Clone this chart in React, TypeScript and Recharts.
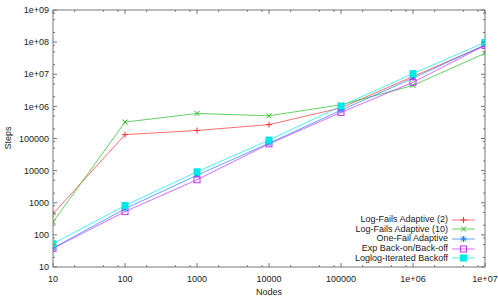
import React from 'react';
import { LineChart, Line, XAxis, YAxis, Legend } from 'recharts';

// values (log-log plot)
const nodes = [10, 100, 1000, 10000, 100000, 1000000, 10000000];
const logFails2 = [450, 132000, 178000, 270000, 900000, 8500000, 80000000];
const logFails10 = [250, 325000, 600000, 510000, 1120000, 4500000, 45000000];
const oneFail = [39, 650, 7200, 71000, 760000, 7600000, 81000000];
const expBackOn = [38, 530, 5200, 68000, 650000, 5600000, 79000000];
const loglogBackoff = [53, 820, 9200, 89000, 1020000, 10500000, 98000000];

const xTicks = [10, 100, 1000, 10000, 100000, 1000000, 10000000];
const yTicks = [10, 100, 1000, 10000, 100000, 1000000, 10000000, 100000000, 1000000000];
const minorSteps = [2, 5, 8];
const xMinor = xTicks.slice(0, -1).flatMap((t) => minorSteps.map((m) => t * m));
const yMinor = yTicks.slice(0, -1).flatMap((t) => minorSteps.map((m) => t * m));
const xAllTicks = [...xTicks, ...xMinor].sort((a, b) => a - b);
const yAllTicks = [...yTicks, ...yMinor].sort((a, b) => a - b);

const series = [
  { key: 'lf2', name: 'Log-Fails Adaptive (2)', color: '#ff3030', shape: 'plus', values: logFails2 },
  { key: 'lf10', name: 'Log-Fails Adaptive (10)', color: '#22bb22', shape: 'cross', values: logFails10 },
  { key: 'one', name: 'One-Fail Adaptive', color: '#1a7fff', shape: 'star', values: oneFail },
  { key: 'exp', name: 'Exp Back-on/Back-off', color: '#c030ff', shape: 'square', values: expBackOn },
  { key: 'loglog', name: 'Loglog-Iterated Backoff', color: '#00e8e8', shape: 'filled', values: loglogBackoff },
];

const data = nodes.map((n, i) => {
  const row: Record<string, number> = { nodes: n };
  series.forEach((s) => {
    row[s.key] = s.values[i];
  });
  return row;
});

const FONT = '"Liberation Sans", Arial, sans-serif';
const AXIS = '#777';

const fmt = (v: number) => (v >= 1e6 ? v.toExponential(0).replace('e+', 'e+0') : String(v));

// major ticks 4px, minor 2px, all pointing into the plot
const tickLen = (v: number) => (String(v)[0] === '1' ? 4 : 2);
const innerTick = (side: 'bottom' | 'top' | 'left' | 'right') => (p: any) => {
  const len = tickLen(p.payload.value);
  const dx = side === 'left' ? len : side === 'right' ? -len : 0;
  const dy = side === 'bottom' ? -len : side === 'top' ? len : 0;
  return <line x1={p.x} y1={p.y} x2={p.x + dx} y2={p.y + dy} stroke={AXIS} strokeWidth={1} />;
};

const Marker = ({ cx, cy, shape, color }: { cx: number; cy: number; shape: string; color: string }) => {
  if (cx == null || cy == null) return null;
  const r = 3;
  switch (shape) {
    case 'plus':
      return <path d={`M${cx - r},${cy}h${2 * r}M${cx},${cy - r}v${2 * r}`} stroke={color} strokeWidth={1} />;
    case 'cross':
      return (
        <path
          d={`M${cx - 2.5},${cy - 2.5}l5,5M${cx - 2.5},${cy + 2.5}l5,-5`}
          stroke={color}
          strokeWidth={1}
        />
      );
    case 'star':
      return (
        <path
          d={`M${cx - r},${cy}h${2 * r}M${cx},${cy - r}v${2 * r}M${cx - 2.5},${cy - 2.5}l5,5M${cx - 2.5},${cy + 2.5}l5,-5`}
          stroke={color}
          strokeWidth={1}
        />
      );
    case 'square':
      return <rect x={cx - r} y={cy - r} width={2 * r} height={2 * r} fill="none" stroke={color} strokeWidth={1} />;
    default:
      return <rect x={cx - 3.5} y={cy - 3.5} width={7} height={7} fill={color} stroke="none" />;
  }
};

const renderLegend = () => (
  <div style={{ fontFamily: FONT, fontSize: 9, color: '#222' }}>
    {series.map((s) => (
      <div
        key={s.key}
        style={{ display: 'flex', alignItems: 'center', justifyContent: 'flex-end', height: 9.67 }}
      >
        <span style={{ marginRight: 2, lineHeight: '9.67px' }}>{s.name}</span>
        <svg width={30} height={10} style={{ display: 'block' }}>
          <line x1={2} x2={25} y1={5} y2={5} stroke={s.color} strokeOpacity={0.7} strokeWidth={1} />
          <Marker cx={13.5} cy={5} shape={s.shape} color={s.color} />
        </svg>
      </div>
    ))}
  </div>
);

const tickStyle = { fontSize: 9, fill: '#222', fontFamily: FONT };

const logX = { type: 'number' as const, scale: 'log' as const, domain: [10, 10000000], allowDataOverflow: true, dataKey: 'nodes' };
const logY = { type: 'number' as const, scale: 'log' as const, domain: [10, 1000000000], allowDataOverflow: true };

// frame axes, each pair tied to an invisible line so the axes render
const tickAxisPairs = [
  ['xb', 'yl'],
  ['xt', 'yr'],
];

export default function App() {
  return (
    <div style={{ position: 'absolute', left: 0, top: 0, fontFamily: FONT, background: '#fff' }}>
      <LineChart width={498} height={299} data={data} margin={{ top: 10, right: 13, bottom: 0, left: 0 }}>
        {/* labelled axes */}
        <XAxis
          xAxisId="x"
          {...logX}
          ticks={xTicks}
          interval={0}
          tickFormatter={fmt}
          tick={tickStyle}
          tickLine={false}
          axisLine={false}
          tickSize={0}
          tickMargin={9}
          height={32}
          label={{
            content: () => (
              <text x={269} y={292} textAnchor="middle" dominantBaseline="central" fontSize={9} fill="#222" fontFamily={FONT}>
                Nodes
              </text>
            ),
          }}
        />
        <YAxis
          yAxisId="y"
          {...logY}
          ticks={yTicks}
          interval={0}
          tickFormatter={fmt}
          tick={tickStyle}
          tickLine={false}
          axisLine={false}
          tickSize={0}
          tickMargin={4}
          width={53}
          label={{
            content: () => (
              <text
                x={8}
                y={138}
                transform="rotate(-90 8 138)"
                textAnchor="middle"
                dominantBaseline="central"
                fontSize={9}
                fill="#222"
                fontFamily={FONT}
              >
                Steps
              </text>
            ),
          }}
        />

        {/* frame with inward major/minor ticks */}
        <XAxis xAxisId="xb" {...logX} mirror ticks={xAllTicks} interval={0} tick={innerTick('bottom')} tickLine={false} tickSize={0} tickMargin={0} stroke={AXIS} />
        <XAxis xAxisId="xt" {...logX} orientation="top" mirror ticks={xAllTicks} interval={0} tick={innerTick('top')} tickLine={false} tickSize={0} tickMargin={0} stroke={AXIS} />
        <YAxis yAxisId="yl" {...logY} mirror ticks={yAllTicks} interval={0} tick={innerTick('left')} tickLine={false} tickSize={0} tickMargin={0} stroke={AXIS} />
        <YAxis yAxisId="yr" {...logY} orientation="right" mirror ticks={yAllTicks} interval={0} tick={innerTick('right')} tickLine={false} tickSize={0} tickMargin={0} stroke={AXIS} />

        {tickAxisPairs.map(([xa, ya]) => (
          <Line
            key={`${xa}-${ya}`}
            xAxisId={xa}
            yAxisId={ya}
            dataKey="lf2"
            stroke="none"
            dot={false}
            activeDot={false}
            legendType="none"
            isAnimationActive={false}
          />
        ))}

        {series.map((s) => (
          <Line
            key={s.key}
            xAxisId="x"
            yAxisId="y"
            dataKey={s.key}
            name={s.name}
            stroke={s.color}
            strokeOpacity={0.7}
            strokeWidth={1}
            isAnimationActive={false}
            dot={(p: any) => <Marker key={`${s.key}-${p.index}`} cx={p.cx} cy={p.cy} shape={s.shape} color={s.color} />}
            activeDot={false}
          />
        ))}

        <Legend
          layout="vertical"
          align="center"
          verticalAlign="middle"
          content={renderLegend}
          wrapperStyle={{ left: 300, top: 215, width: 180, height: 50 }}
        />
      </LineChart>
    </div>
  );
}
